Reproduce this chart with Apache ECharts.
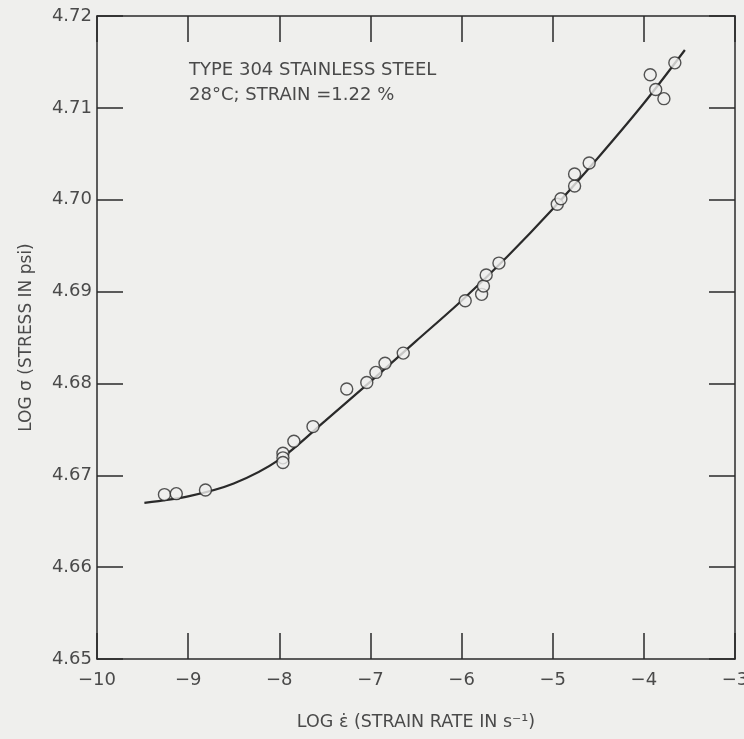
<!DOCTYPE html>
<html>
<head>
<meta charset="utf-8">
<script src="https://cdn.jsdelivr.net/npm/echarts@6/dist/echarts.min.js"></script>
<style>
html,body{margin:0;padding:0;background:#efefed;}
#chart{width:744px;height:739px;}
</style>
</head>
<body>
<div id="chart"></div>
<script>
// Data
var xTickValues = [-10, -9, -8, -7, -6, -5, -4, -3];
var xTickLabels = ['\u221210', '\u22129', '\u22128', '\u22127', '\u22126', '\u22125', '\u22124', '\u22123'];
var yTickValues = [4.65, 4.66, 4.67, 4.68, 4.69, 4.70, 4.71, 4.72];
var yTickLabels = ['4.65', '4.66', '4.67', '4.68', '4.69', '4.70', '4.71', '4.72'];

var pointLogRate = [-9.26, -9.13, -8.81, -7.96, -7.96, -7.96, -7.84, -7.63, -7.26, -7.04, -6.94, -6.84, -6.64,
  -5.96, -5.78, -5.76, -5.73, -5.59, -4.95, -4.91, -4.76, -4.76, -4.60, -3.93, -3.87, -3.78, -3.66];
var pointLogStress = [4.6679, 4.6680, 4.6684, 4.6724, 4.6719, 4.6714, 4.6737, 4.6753, 4.6794, 4.6801, 4.6812, 4.6822, 4.6833,
  4.6890, 4.6897, 4.6906, 4.6918, 4.6931, 4.6995, 4.7001, 4.7015, 4.7028, 4.7040, 4.7136, 4.7120, 4.7110, 4.7149];

var curveLogRate = [-9.48, -9.0, -8.5, -8.0, -7.5, -7.0, -6.5, -6.0, -5.5, -5.0, -4.5, -4.0, -3.55];
var curveLogStress = [4.6670, 4.6677, 4.6691, 4.6717, 4.6759, 4.6802, 4.6846, 4.6890, 4.6938, 4.6990, 4.7046, 4.7105, 4.7163];

var annotationLines = ['TYPE 304 STAINLESS STEEL', '28\u00B0C; STRAIN =1.22 %'];
var xAxisTitle = 'LOG \u03B5\u0307 (STRAIN RATE IN s\u207B\u00B9)';
var yAxisTitle = 'LOG \u03C3 (STRESS IN psi)';

var points = pointLogRate.map(function (x, i) { return [x, pointLogStress[i]]; });
var curve = curveLogRate.map(function (x, i) { return [x, curveLogStress[i]]; });

var FONT = '"DejaVu Sans", "Noto Sans", sans-serif';
var INK = '#2a2a2a';
var TXT = '#4a4a4a';
var BG = '#efefed';

function xLab(v) { var i = xTickValues.indexOf(Math.round(v)); return i >= 0 ? xTickLabels[i] : ''; }
function yLab(v) {
  for (var i = 0; i < yTickValues.length; i++) if (Math.abs(yTickValues[i] - v) < 1e-6) return yTickLabels[i];
  return '';
}

var chart = echarts.init(document.getElementById('chart'), null, { renderer: 'canvas' });
var axisCommon = {
  type: 'value',
  axisLine: { show: true, lineStyle: { color: INK, width: 1.5 } },
  axisTick: { show: true, inside: true, length: 26, lineStyle: { color: INK, width: 1.5 } },
  splitLine: { show: false }
};
chart.setOption({
  backgroundColor: BG,
  animation: false,
  grid: { left: 97, right: 9, top: 16, bottom: 80, containLabel: false, outerBoundsMode: 'none' },
  xAxis: [
    Object.assign({}, axisCommon, {
      position: 'bottom', min: -10, max: -3, interval: 1,
      axisLabel: { formatter: xLab, color: TXT, fontFamily: FONT, fontSize: 18, margin: 12 },
      name: xAxisTitle, nameLocation: 'middle', nameGap: 54,
      nameTextStyle: { color: TXT, fontFamily: FONT, fontSize: 17.5 }
    }),
    Object.assign({}, axisCommon, {
      position: 'top', min: -10, max: -3, interval: 1,
      axisLabel: { show: false }
    })
  ],
  yAxis: [
    Object.assign({}, axisCommon, {
      position: 'left', min: 4.65, max: 4.72, interval: 0.01,
      axisLabel: { formatter: yLab, color: TXT, fontFamily: FONT, fontSize: 18, margin: 5 },
      name: yAxisTitle, nameLocation: 'middle', nameGap: 62, nameRotate: 90,
      nameTextStyle: { color: TXT, fontFamily: FONT, fontSize: 17 }
    }),
    Object.assign({}, axisCommon, {
      position: 'right', min: 4.65, max: 4.72, interval: 0.01,
      axisLabel: { show: false }
    })
  ],
  graphic: [
    { type: 'text', left: 189, top: 61, style: { text: annotationLines[0], fill: TXT, font: '18px ' + FONT } },
    { type: 'text', left: 189, top: 86, style: { text: annotationLines[1], fill: TXT, font: '18px ' + FONT } }
  ],
  series: [
    {
      type: 'line', data: curve, smooth: 0.3, showSymbol: false, z: 2,
      lineStyle: { color: INK, width: 2.2 }
    },
    {
      type: 'scatter', data: points, symbol: 'circle', symbolSize: 12, z: 3,
      itemStyle: { color: BG, borderColor: INK, borderWidth: 1.4 }
    }
  ]
});
</script>
</body>
</html>
